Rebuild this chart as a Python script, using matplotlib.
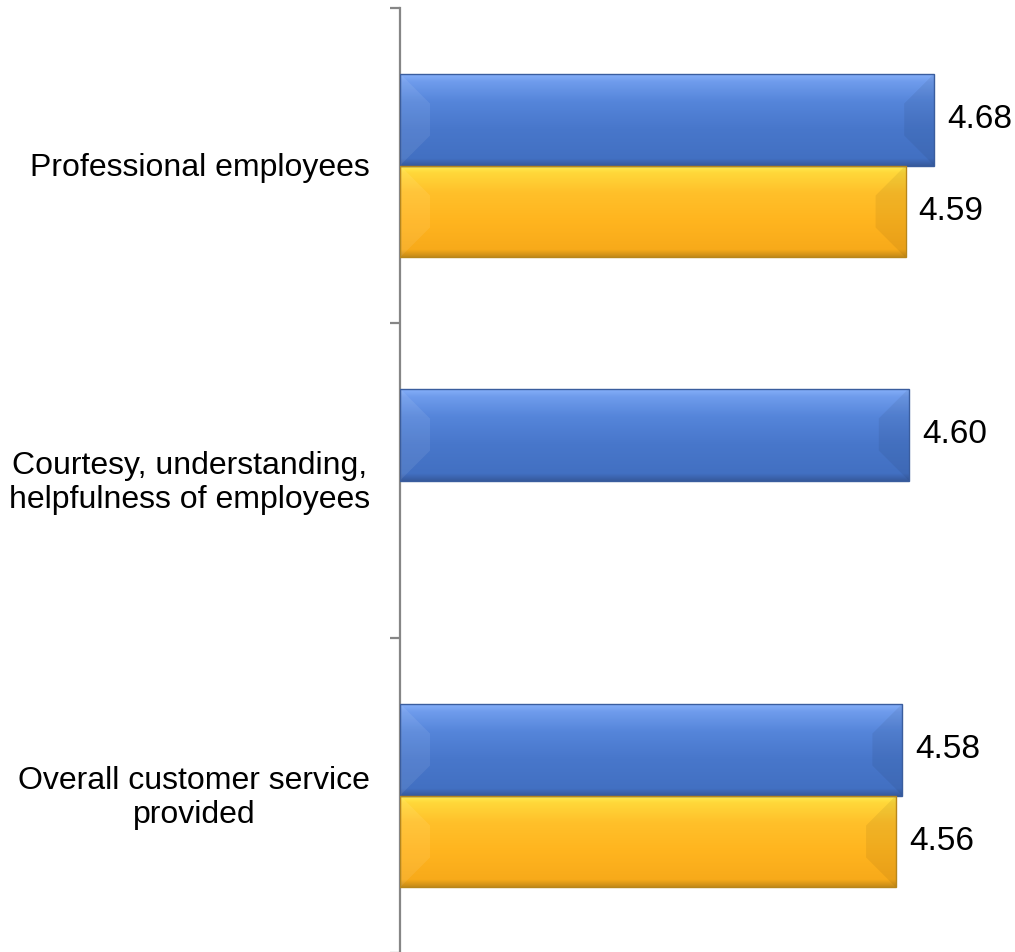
import numpy as np
import matplotlib
matplotlib.use("Agg")
import matplotlib.pyplot as plt
from matplotlib.colors import LinearSegmentedColormap
from matplotlib.patches import Polygon

plt.rcParams['font.family'] = ['Liberation Sans', 'DejaVu Sans']

categories = ["Professional employees",
              "Courtesy, understanding,\nhelpfulness of employees",
              "Overall customer service\nprovided"]
series_blue = [4.68, 4.60, 4.58]
series_gold = [4.59, None, 4.56]

X_MIN = 3.0
X_MAX = 4.934
BAR_H = 0.292

# vertical shading for the bevelled bars, top -> bottom
blue_cmap = LinearSegmentedColormap.from_list("blue_bevel", [
    (0.0, "#86b0fa"), (0.08, "#6f9cec"), (0.3, "#5585da"),
    (0.6, "#4877cb"), (0.92, "#4270c2"), (1.0, "#36599c")])
gold_cmap = LinearSegmentedColormap.from_list("gold_bevel", [
    (0.0, "#ffee55"), (0.08, "#ffd83a"), (0.3, "#ffc02a"),
    (0.6, "#ffb51f"), (0.92, "#f8aa1a"), (1.0, "#c48a18")])
edge_blue = "#3a5d9e"
edge_gold = "#b8861a"

fig = plt.figure(figsize=(10.15, 9.52), dpi=100)
ax = fig.add_axes([400 / 1015, -1 / 952, 615 / 1015, 945 / 952])

grad = np.linspace(0, 1, 256).reshape(-1, 1)
px_x = (X_MAX - X_MIN) / 615
px_y = 3.0 / 945
bev_x = 30 * px_x
bev_y = 30 * px_y


def bevel_bars(pos, vals, cmap, edge):
    for y, v in zip(pos, vals):
        if v is None:
            continue
        bars = ax.barh([y], [v - X_MIN], left=X_MIN, height=BAR_H,
                       color="none", edgecolor=edge, linewidth=1.0, zorder=4)
        rect = bars[0]
        top, bot = y - BAR_H / 2, y + BAR_H / 2
        im = ax.imshow(grad, cmap=cmap, origin="lower", aspect="auto",
                       extent=(X_MIN, v, top, bot), zorder=2)
        im.set_clip_path(rect)
        # light chevron at the base, darker wedge at the tip
        left = Polygon([(X_MIN, top), (X_MIN + bev_x, top + bev_y),
                        (X_MIN + bev_x, bot - bev_y), (X_MIN, bot)],
                       closed=True, facecolor="white", alpha=0.08,
                       edgecolor="none", zorder=3)
        right = Polygon([(v, top), (v - bev_x, top + bev_y),
                         (v - bev_x, bot - bev_y), (v, bot)],
                        closed=True, facecolor="black", alpha=0.06,
                        edgecolor="none", zorder=3)
        ax.add_patch(left)
        ax.add_patch(right)
        ax.text(v + 13 * px_x, y, f"{v:.2f}", ha="left", va="center",
                fontsize=24, color="black", zorder=5)


pos = np.arange(len(categories))
bevel_bars(pos - BAR_H / 2, series_blue, blue_cmap, edge_blue)
bevel_bars(pos + BAR_H / 2, series_gold, gold_cmap, edge_gold)

for y, name in zip(pos, categories):
    ax.text(-30 / 615, y + 0.008, name, transform=ax.get_yaxis_transform(),
            ha="right", va="center", multialignment="center",
            fontsize=23, linespacing=1.2)

ax.set_xlim(X_MIN, X_MAX)
ax.set_ylim(2.5, -0.5)
ax.set_yticks([-0.5, 0.5, 1.5, 2.5])
ax.set_yticklabels([])
ax.tick_params(axis="y", direction="out", length=7.2, width=1.6,
               color="#868686")
ax.set_xticks([])
for side in ["top", "right", "bottom"]:
    ax.spines[side].set_visible(False)
ax.spines["left"].set_color("#868686")
ax.spines["left"].set_linewidth(1.6)

fig.savefig("out.png", dpi=100)
